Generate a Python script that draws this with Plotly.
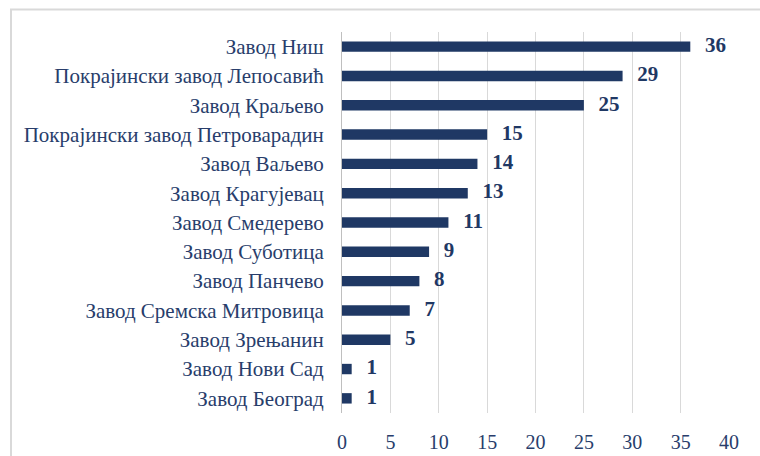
import plotly.graph_objects as go

categories = ["Завод Ниш", "Покрајински завод Лепосавић", "Завод Краљево",
              "Покрајински завод Петроварадин", "Завод Ваљево", "Завод Крагујевац",
              "Завод Смедерево", "Завод Суботица", "Завод Панчево",
              "Завод Сремска Митровица", "Завод Зрењанин", "Завод Нови Сад",
              "Завод Београд"]
values = [36, 29, 25, 15, 14, 13, 11, 9, 8, 7, 5, 1, 1]
x_ticks = [0, 5, 10, 15, 20, 25, 30, 35, 40]

W, H = 760, 456
L, R, T, B = 342, 31, 32, 43
pw, ph = W - L - R, H - T - B

navy = "#1F3864"
txt = "#283D6B"
SERIF = "Liberation Serif"

fig = go.Figure()
fig.add_trace(go.Bar(
    y=categories, x=values, orientation="h",
    marker=dict(color=navy, line=dict(width=0)),
    width=0.355, hoverinfo="skip",
))
fig.add_trace(go.Scatter(
    y=categories, x=values, mode="text",
    text=["  \u2009" + str(v) for v in values], textposition="middle right",
    textfont=dict(family=SERIF, size=21, color=navy, weight="bold"),
    cliponaxis=False, hoverinfo="skip",
))

def px_x(p):
    return (p - L) / pw

def px_y(p):
    return (H - B - p) / ph

fig.add_shape(type="rect", xref="paper", yref="paper",
              x0=px_x(11), x1=px_x(790), y0=px_y(490), y1=px_y(9.5),
              line=dict(color="#D9D9D9", width=2), fillcolor="rgba(0,0,0,0)", layer="below")

n = len(categories)
fig.update_layout(
    width=W, height=H,
    font=dict(family=SERIF, color=txt),
    margin=dict(l=L, r=R, t=T, b=B, pad=0),
    paper_bgcolor="white", plot_bgcolor="white",
    showlegend=False,
    xaxis=dict(range=[0, 40], tickvals=x_ticks, showgrid=True, gridcolor="#D9D9D9",
               gridwidth=1, zeroline=False, showline=False, ticks="",
               tickfont=dict(family=SERIF, size=20, color=txt),
               ticklabelstandoff=15, automargin=False, fixedrange=True),
    yaxis=dict(categoryorder="array", categoryarray=categories[::-1],
               range=[-0.5, n - 0.5],
               showline=True, linecolor="#BFBFBF", linewidth=1, ticks="",
               showgrid=False, zeroline=False,
               tickfont=dict(family=SERIF, size=21, color=txt),
               ticklabelstandoff=13, automargin=False, fixedrange=True),
)

fig.write_html("out.html")
